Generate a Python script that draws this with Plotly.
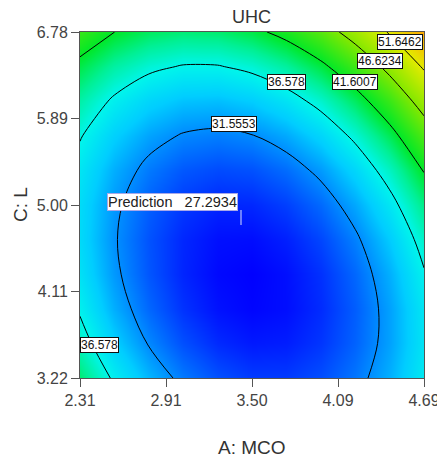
import plotly.graph_objects as go

# Factor levels (A: MCO along x, C: L along y)
a_levels = [2.31, 2.548, 2.786, 3.024, 3.262, 3.5, 3.738, 3.976, 4.214, 4.452, 4.69]
c_levels = [3.22, 3.576, 3.932, 4.288, 4.644, 5.0, 5.356, 5.712, 6.068, 6.424, 6.78]

# UHC response; one row per C level (bottom to top)
uhc_c322 = [39.86, 36.13, 33.14, 30.89, 29.38, 28.61, 28.58, 29.29, 30.74, 32.93, 35.86]
uhc_c358 = [37.78, 34.22, 31.40, 29.32, 27.98, 27.38, 27.52, 28.40, 30.02, 32.38, 35.48]
uhc_c393 = [36.25, 32.85, 30.20, 28.29, 27.12, 26.69, 27.00, 28.05, 29.84, 32.37, 35.64]
uhc_c429 = [35.26, 32.04, 29.56, 27.81, 26.81, 26.55, 27.03, 28.25, 30.21, 32.91, 36.35]
uhc_c464 = [34.82, 31.76, 29.45, 27.88, 27.05, 26.96, 27.61, 28.99, 31.12, 33.99, 37.60]
uhc_c500 = [34.92, 32.04, 29.90, 28.49, 27.83, 27.91, 28.73, 30.29, 32.58, 35.62, 39.40]
uhc_c536 = [35.57, 32.86, 30.89, 29.65, 29.16, 29.41, 30.40, 32.12, 34.59, 37.80, 41.75]
uhc_c571 = [36.77, 34.23, 32.42, 31.36, 31.04, 31.46, 32.61, 34.51, 37.15, 40.52, 44.64]
uhc_c607 = [38.51, 36.14, 34.51, 33.61, 33.46, 34.05, 35.37, 37.44, 40.25, 43.79, 48.08]
uhc_c642 = [40.80, 38.60, 37.14, 36.41, 36.43, 37.19, 38.68, 40.92, 43.89, 47.61, 52.07]
uhc_c678 = [43.64, 41.61, 40.31, 39.76, 39.94, 40.87, 42.54, 44.94, 48.09, 51.97, 56.60]

contour_levels = [31.5553, 36.578, 41.6007, 46.6234, 51.6462]
x_tick_vals = [2.31, 2.905, 3.5, 4.095, 4.69]
x_tick_text = ["2.31", "2.91", "3.50", "4.09", "4.69"]
y_tick_vals = [3.22, 4.11, 5.0, 5.89, 6.78]
y_tick_text = ["3.22", "4.11", "5.00", "5.89", "6.78"]
prediction_value = 27.2934

z = [uhc_c322, uhc_c358, uhc_c393, uhc_c429, uhc_c464, uhc_c500,
     uhc_c536, uhc_c571, uhc_c607, uhc_c642, uhc_c678]

zmin, zmax = 26.5326, 56.6689
def frac(v):
    return (v - zmin) / (zmax - zmin)

colorscale = [
    [0.0, "rgb(0,0,255)"],
    [frac(29.0), "rgb(0,70,255)"],
    [frac(31.5553), "rgb(0,140,255)"],
    [frac(34.0), "rgb(0,205,255)"],
    [frac(36.578), "rgb(0,245,235)"],
    [frac(39.0), "rgb(0,240,150)"],
    [frac(41.6007), "rgb(0,232,40)"],
    [frac(46.6234), "rgb(130,232,0)"],
    [frac(51.6462), "rgb(225,235,0)"],
    [1.0, "rgb(255,165,0)"],
]

FONT = "Arial, Liberation Sans, sans-serif"

fig = go.Figure()
fig.add_trace(go.Heatmap(
    x=a_levels, y=c_levels, z=z, zsmooth="best",
    colorscale=colorscale, zmin=zmin, zmax=zmax, showscale=False,
    hoverinfo="skip"))
fig.add_trace(go.Contour(
    x=a_levels, y=c_levels, z=z,
    contours=dict(start=contour_levels[0], end=contour_levels[-1],
                  size=(contour_levels[-1] - contour_levels[0]) / (len(contour_levels) - 1),
                  coloring="lines", showlabels=False),
    line=dict(width=1, smoothing=1.0),
    colorscale=[[0, "black"], [1, "black"]], showscale=False,
    hoverinfo="skip"))

axis_common = dict(showgrid=False, zeroline=False, showline=True, linecolor="#555",
                   linewidth=1, mirror=True, ticks="outside", ticklen=8, automargin=False,
                   ticklabeloverflow="allow",
                   tickcolor="#555", tickfont=dict(family=FONT, size=16, color="#444"))

fig.update_xaxes(range=[2.31, 4.69], tickvals=x_tick_vals, ticktext=x_tick_text, **axis_common)
fig.update_yaxes(range=[3.22, 6.78], tickvals=y_tick_vals, ticktext=y_tick_text, **axis_common)

def px_to_paper(px, py):
    return (px - 80) / 344.0, (378 - py) / 346.0

label_pos = [
    (contour_levels[4], 400, 42),
    (contour_levels[3], 380, 60.5),
    (contour_levels[2], 355, 81.5),
    (contour_levels[1], 286, 82),
    (contour_levels[0], 234, 123.5),
    (contour_levels[1], 99, 345),
]
annotations = []
for val, px, py in label_pos:
    xp, yp = px_to_paper(px, py)
    txt = ("%.4f" % val).rstrip("0")
    annotations.append(dict(x=xp, y=yp, xref="paper", yref="paper", text=txt,
                            xanchor="center", yanchor="middle",
                            showarrow=False, font=dict(family=FONT, size=12, color="#111"),
                            bgcolor="white", bordercolor="#111", borderwidth=1, borderpad=0))

xp, yp = px_to_paper(172, 201.5)
annotations.append(dict(x=xp, y=yp, xref="paper", yref="paper",
                        xanchor="center", yanchor="middle",
                        text="Prediction\u00a0\u00a0\u00a0" + "%.4f" % prediction_value,
                        showarrow=False, font=dict(family=FONT, size=14.5, color="#222"),
                        bgcolor="white", bordercolor="#a8a8e8", borderwidth=1, borderpad=0))

tx, ty = px_to_paper(252, 447)
annotations.append(dict(x=tx, y=ty, xref="paper", yref="paper",
                        text="A: MCO", showarrow=False, yanchor="middle", xanchor="center",
                        font=dict(family=FONT, size=19, color="#333")))
tx, ty = px_to_paper(20, 205)
annotations.append(dict(x=tx, y=ty, xref="paper", yref="paper",
                        text="C: L", showarrow=False, textangle=-90, xanchor="center",
                        yanchor="middle", font=dict(family=FONT, size=19, color="#333")))
tx, ty = px_to_paper(251, 17)
annotations.append(dict(x=tx, y=ty, xref="paper", yref="paper",
                        text="UHC", showarrow=False, yanchor="middle", xanchor="center",
                        font=dict(family=FONT, size=18, color="#333")))

x1, y1 = px_to_paper(241, 210)
x2, y2 = px_to_paper(241, 225)
shapes = [dict(type="line", xref="paper", yref="paper", x0=x1, x1=x2, y0=y1, y1=y2,
               line=dict(color="#d8e0ff", width=1))]

fig.update_layout(
    width=437, height=462,
    margin=dict(l=80, r=13, t=32, b=84, autoexpand=False),
    paper_bgcolor="white", plot_bgcolor="white",
    annotations=annotations, shapes=shapes, showlegend=False,
)

fig.write_html("out.html", config={"displayModeBar": False},
               post_script="document.body.style.margin='0';document.body.style.overflow='hidden';")
